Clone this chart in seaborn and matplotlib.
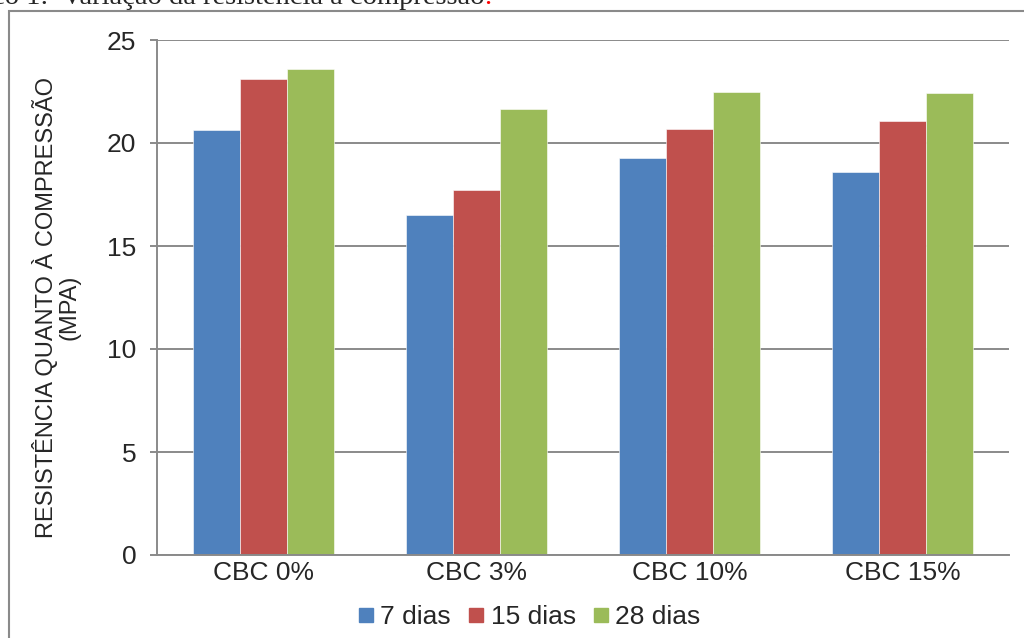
import pandas as pd
import seaborn as sns
import matplotlib.pyplot as plt
from matplotlib.patches import Rectangle
from matplotlib.lines import Line2D

# dados
categorias = ["CBC 0%", "CBC 3%", "CBC 10%", "CBC 15%"]
idades = ["7 dias", "15 dias", "28 dias"]
res_7 = [20.65, 16.5, 19.27, 18.6]
res_15 = [23.1, 17.7, 20.7, 21.07]
res_28 = [23.6, 21.67, 22.48, 22.43]
cores = ["#4F81BD", "#C0504D", "#9BBB59"]

df = pd.DataFrame({
    "cat": categorias * 3,
    "idade": [idades[0]] * 4 + [idades[1]] * 4 + [idades[2]] * 4,
    "valor": res_7 + res_15 + res_28,
})

sns.set_theme(style="white")
plt.rcParams['font.family'] = ['Liberation Sans', 'DejaVu Sans']

cinza = "#8A8A8A"
fig = plt.figure(figsize=(10.24, 6.38), dpi=100)
ax = fig.add_axes([157 / 1024, 1 - 555 / 638, (1009 - 157) / 1024, (555 - 40) / 638])

sns.barplot(data=df, x="cat", y="valor", hue="idade", palette=cores,
            width=0.66, gap=0, saturation=1, edgecolor="white", linewidth=0.4,
            legend=False, ax=ax)

ax.set_ylim(0, 25)
ax.set_xlim(-0.5, 3.5)
ax.set_yticks([0, 5, 10, 15, 20, 25])
ax.yaxis.grid(True, color=cinza, linewidth=1.4)
ax.set_axisbelow(True)
for s in ["top", "right"]:
    ax.spines[s].set_visible(False)
for s in ["left", "bottom"]:
    ax.spines[s].set_color(cinza)
    ax.spines[s].set_linewidth(1.4)
ax.tick_params(axis="y", length=5, width=1.4, color=cinza, left=True, pad=10, labelsize=19)
ax.tick_params(axis="x", length=0, pad=4, labelsize=19)
ax.set_xlabel("")
ax.set_ylabel("RESISTÊNCIA QUANTO À COMPRESSÃO\n(MPA)", fontsize=17, linespacing=1.0)
ax.yaxis.set_label_coords(-0.09, 0.48)

# legenda embaixo
handles = [Line2D([], [], marker="s", linestyle="none", markersize=9.5,
                  markerfacecolor=c, markeredgecolor=c) for c in cores]
fig.legend(handles, idades, loc="center", bbox_to_anchor=(530 / 1024, 1 - 617 / 638),
           ncol=3, frameon=False, fontsize=19, handlelength=0.5, handletextpad=0.3,
           columnspacing=0.7, borderpad=0)

# moldura externa
fig.patches.append(Rectangle((9 / 1024, -0.1), 1.2, 1.1 - 11 / 638, transform=fig.transFigure,
                             fill=False, edgecolor=cinza, linewidth=1.5))

# título cortado no topo
fig.text(484 / 1024, 1 - 4.5 / 638, "Gráfico 1:  Variação da resistência à compressão",
         ha="right", va="baseline", fontsize=20.5, family=["Liberation Serif", "DejaVu Serif"])
fig.text(484 / 1024, 1 - 4.5 / 638, ".", color="red",
         ha="left", va="baseline", fontsize=20.5, family=["Liberation Serif", "DejaVu Serif"])

fig.savefig("out.png", dpi=100)
